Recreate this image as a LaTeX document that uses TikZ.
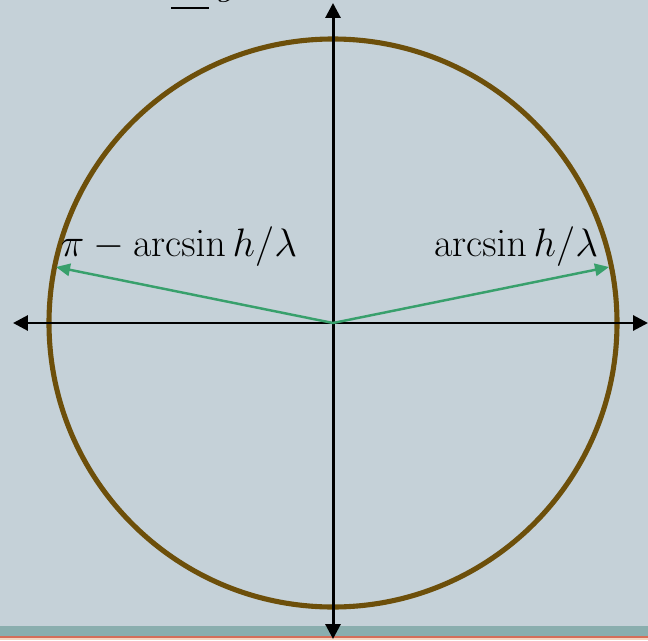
\documentclass[tikz,border=0pt]{standalone}
\usepackage{amsmath}
\usepackage{tikz}
\usetikzlibrary{arrows.meta}
\definecolor{SlideBg}{RGB}{197, 209, 216}
\definecolor{RimBrown}{RGB}{109, 79, 10}
\definecolor{AngGreen}{RGB}{56, 160, 108}
\definecolor{BarTeal}{RGB}{138, 174, 174}
\definecolor{BarRed}{RGB}{214, 110, 88}
\definecolor{BarPeach}{RGB}{244, 214, 194}
\begin{document}
\begin{tikzpicture}[x=0.02cm, y=0.02cm,
  rim/.style={draw=RimBrown, line width=2.9pt},
  axis/.style={-{Triangle[length=8.5pt, width=8.5pt]}, black, line width=1.7pt},
  ang/.style={-{Triangle[length=8pt, width=7pt]}, AngGreen, line width=1.4pt},
  lab/.style={font=\fontsize{21}{25}\selectfont, scale=1.09, transform shape, inner sep=0pt, anchor=base}]
\useasboundingbox (0, 0) rectangle (648, 640);
\clip (0, 0) rectangle (648, 640);
\fill[SlideBg] (0, 0) rectangle (648, 640);
\fill[BarTeal] (0, 4) rectangle (648, 14); \fill[BarRed] (0, 2) rectangle (648, 4); \fill[BarPeach] (0, 0) rectangle (648, 2);
% partly hidden text above
\draw[black, line width=1.7pt] (171, 632) -- (209, 632);
\node[lab] (one) at (190, 639.5) {$1$};
\node[lab] (gee) at (228, 645) {$g$};
\coordinate (O) at (333, 317);
\coordinate (E) at (648, 317); \coordinate (W) at (13, 317);
\coordinate (N) at (333, 637); \coordinate (S) at (333, 1);
\coordinate (R) at (609, 373); \coordinate (L) at (56, 373);
\draw[rim] (O) circle (284);
\draw[axis] (O) -- (E); \draw[axis] (O) -- (W); \draw[axis] (O) -- (N); \draw[axis] (O) -- (S);
\draw[ang] (O) -- (R); \draw[ang] (O) -- (L);
\node[lab] (rlab) at (516, 384) {$\arcsin h/\lambda$};
\node[lab] (llab) at (179, 384) {$\pi - \arcsin h/\lambda$};
\end{tikzpicture}
\end{document}
